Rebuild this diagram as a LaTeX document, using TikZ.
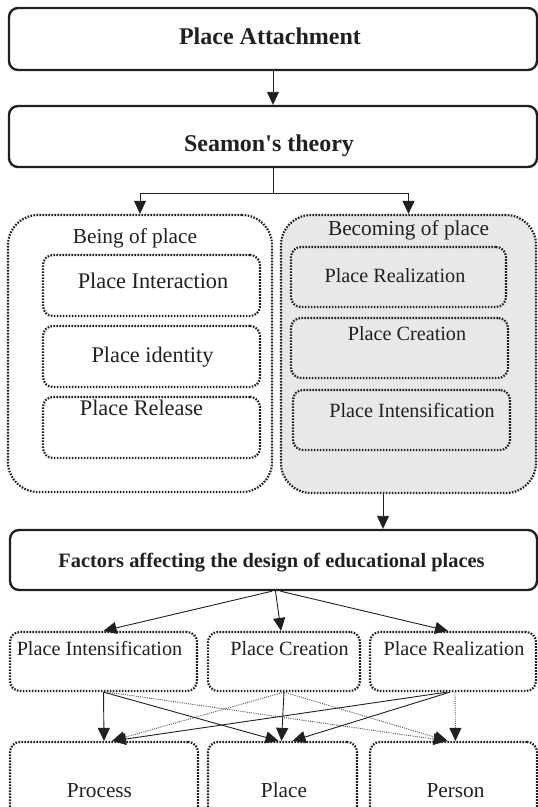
\documentclass[tikz,border=0pt]{standalone}
\usepackage{fontspec}
\setmainfont{Liberation Serif}
\usetikzlibrary{arrows.meta,calc}
\definecolor{ink}{HTML}{231F20}
\definecolor{boxgray}{HTML}{E8E8E8}
\tikzset{
  thickbox/.style={draw=ink, line width=2.4pt, rounded corners=9pt, inner sep=0pt},
  dotbox/.style={draw=ink, line width=2.2pt, dash pattern=on 1.6pt off 1.4pt, rounded corners=10pt, inner sep=0pt},
  bigbox/.style={dotbox, rounded corners=30pt},
  txt/.style={text=ink, inner sep=0pt, anchor=base},
  arr/.style={draw=ink, line width=0.9pt, -{Triangle[length=13pt,width=12pt]}},
  dotarr/.style={draw=ink!80, line width=0.9pt, dash pattern=on 1pt off 1.2pt, -{Triangle[length=13pt,width=12pt,color=ink]}},
  fA/.style={font=\fontsize{24}{28}\selectfont\bfseries},
  fF/.style={font=\fontsize{20.4}{24}\selectfont\bfseries},
  fL/.style={font=\fontsize{22.3}{26}\selectfont},
  fB/.style={font=\fontsize{21.3}{25}\selectfont},
  fR/.style={font=\fontsize{20.2}{24}\selectfont},
}
\begin{document}
\begin{tikzpicture}[x=1pt,y=-1pt]
\useasboundingbox (0,0) rectangle (538,807);
\clip (0,0) rectangle (538,807);
% thick boxes
\node[thickbox, minimum width=528pt, minimum height=62pt] (att) at (273,39) {};
\node[txt, fA] (attT) at (270,44.5) {Place Attachment};
\node[thickbox, minimum width=528pt, minimum height=61pt] (sea) at (273,136.5) {};
\node[txt, fA] (seaT) at (269,151) {Seamon\textquotesingle s theory};
% big boxes
\node[bigbox, minimum width=264pt, minimum height=277pt] (being) at (140,353.5) {};
\node[bigbox, fill=boxgray, minimum width=255pt, minimum height=278pt] (becom) at (408.5,354) {};
\node[txt, fB] (beingT) at (135,243) {Being of place};
\node[txt, fB] (becomT) at (408.5,235) {Becoming of place};
% left inner
\node[dotbox, minimum width=217pt, minimum height=61pt] (ia) at (151.5,285.5) {};
\node[dotbox, minimum width=217pt, minimum height=61pt] (id) at (151.5,356.5) {};
\node[dotbox, minimum width=217pt, minimum height=61pt] (rel) at (151.5,427.5) {};
\node[txt, fL] (iaT) at (153,288) {Place Interaction};
\node[txt, fL] (idT) at (152.5,362) {Place identity};
\node[txt, fL] (relT) at (141.5,415) {Place Release};
% right inner
\node[dotbox, minimum width=215pt, minimum height=60pt] (rr) at (398.5,277) {};
\node[dotbox, minimum width=217pt, minimum height=60pt] (rc) at (399.5,348) {};
\node[dotbox, minimum width=217pt, minimum height=60pt] (ri) at (401.5,420) {};
\node[txt, fR] (rrT) at (395,282) {Place Realization};
\node[txt, fR] (rcT) at (407,340) {Place Creation};
\node[txt, fR] (riT) at (412,417) {Place Intensification};
% factors
\node[thickbox, minimum width=527pt, minimum height=60pt] (fac) at (273.5,560) {};
\node[txt, fF] (facT) at (271.5,567) {Factors affecting the design of educational places};
% middle row
\node[dotbox, minimum width=187pt, minimum height=59pt] (mi) at (103.5,661.5) {};
\node[dotbox, minimum width=152pt, minimum height=59pt] (mc) at (284,661.5) {};
\node[dotbox, minimum width=166pt, minimum height=59pt] (mr) at (453,661.5) {};
\node[txt, fR] (miT) at (99.5,655) {Place Intensification};
\node[txt, fR] (mcT) at (289.5,655) {Place Creation};
\node[txt, fR] (mrT) at (454,655) {Place Realization};
% bottom row
\node[dotbox, minimum width=188pt, minimum height=90pt] (bp) at (104,787) {};
\node[dotbox, minimum width=149pt, minimum height=90pt] (bpl) at (282.5,787) {};
\node[dotbox, minimum width=167pt, minimum height=90pt] (bpe) at (453.5,787) {};
\node[txt, fB] (bpT) at (99.5,797) {Process};
\node[txt, fB] (bplT) at (284,797) {Place};
\node[txt, fB] (bpeT) at (455.5,797) {Person};
% connectors top
\draw[arr] (att.south) -- (sea.south |- sea.north);
\coordinate (fork) at ($(sea.south)+(0,25)$);
\draw[draw=ink, line width=0.9pt] (sea.south) -- (fork);
\draw[arr] (fork) -| (being.north);
\draw[arr] (fork) -| (becom.north);
\draw[arr] ([xshift=-25.5pt]becom.south) -- ([xshift=-25.5pt]becom.south |- fac.north);
% factors to middle
\draw[arr] ([xshift=-1.5pt]fac.south) -- (mi.north);
\draw[arr] ([xshift=2pt]fac.south) -- ([xshift=-3pt]mc.north);
\draw[arr] ([xshift=7pt]fac.south) -- ([xshift=-5pt]mr.north);
% middle to bottom
\draw[dotarr] ([xshift=4pt]mi.south) -- ([xshift=-7pt]bpe.north);
\draw[dotarr] (mc.south) -- ([xshift=8pt]bp.north);
\draw[dotarr] (mc.south) -- ([xshift=-6pt]bpe.north);
\draw[dotarr] ([xshift=2pt]mr.south) -- ([xshift=2pt]bpe.north);
\draw[arr] (mi.south) -- (bp.north);
\draw[arr] (mi.south) -- ([xshift=-4pt]bpl.north);
\draw[arr] (mc.south) -- ([xshift=-1pt]bpl.north);
\draw[arr] ([xshift=-6pt]mr.south) -- ([xshift=9pt]bp.north);
\draw[arr] ([xshift=-3pt]mr.south) -- ([xshift=10pt]bpl.north);
\end{tikzpicture}
\end{document}
